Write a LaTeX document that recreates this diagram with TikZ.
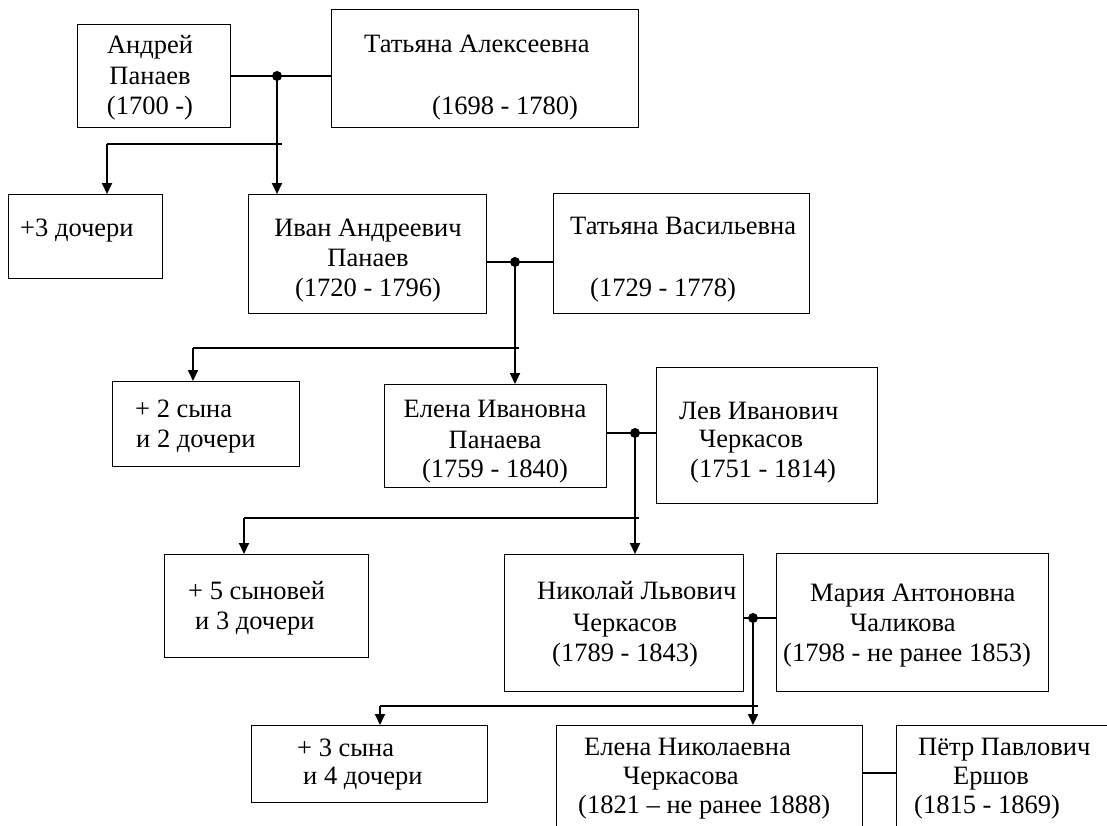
\documentclass[tikz,border=0pt]{standalone}
\usepackage{fontspec}
\setmainfont{Liberation Serif}
\usetikzlibrary{arrows.meta}
\begin{document}
\begin{tikzpicture}[x=1pt,y=-1pt,
  pbox/.style={draw, line width=1.3pt, anchor=north west, inner sep=0pt},
  tl/.style={anchor=base west, inner sep=0pt, font=\fontsize{26.5}{31}\selectfont},
  tc/.style={anchor=base, inner sep=0pt, font=\fontsize{26.5}{31}\selectfont},
  conn/.style={line width=2pt},
  arr/.style={line width=2pt, -{Triangle[length=11pt,width=10pt]}},
  mdot/.style={circle, fill, inner sep=0pt, minimum size=10pt}]
\clip (0,0) rectangle (1107,825);
\fill[white] (0,0) rectangle (1107,825);

% boxes
\node[pbox, minimum width=153pt, minimum height=103pt] (A) at (77,24) {};
\node[pbox, minimum width=307pt, minimum height=118pt] (B) at (331,9) {};
\node[pbox, minimum width=154pt, minimum height=84pt] (C) at (8,194) {};
\node[pbox, minimum width=238pt, minimum height=119pt] (D) at (248,194) {};
\node[pbox, minimum width=256pt, minimum height=120pt] (E) at (553,193) {};
\node[pbox, minimum width=187pt, minimum height=85pt] (F) at (112,381) {};
\node[pbox, minimum width=222pt, minimum height=103pt] (G) at (384,384) {};
\node[pbox, minimum width=221pt, minimum height=136pt] (H) at (656,367) {};
\node[pbox, minimum width=204pt, minimum height=103pt] (I) at (164,554) {};
\node[pbox, minimum width=239pt, minimum height=137pt] (J) at (504,554) {};
\node[pbox, minimum width=272pt, minimum height=138pt] (K) at (776,553) {};
\node[pbox, minimum width=236pt, minimum height=77pt] (L) at (251,725) {};
\node[pbox, minimum width=306pt, minimum height=130pt] (M) at (556,725) {};
\node[pbox, minimum width=230pt, minimum height=130pt] (N) at (896,725) {};

% texts
\node[tc] (a1) at (150,53) {Андрей};
\node[tc] (a2) at (150,84) {Панаев};
\node[tc] (a3) at (150,114) {(1700 -)};
\node[tl] (b1) at (364,52) {Татьяна Алексеевна};
\node[tl] (b2) at (432,114) {(1698 - 1780)};
\node[tl] (c1) at (20,236) {+3 дочери};
\node[tc] (d1) at (368,236) {Иван Андреевич};
\node[tc] (d2) at (368,266) {Панаев};
\node[tc] (d3) at (368,296) {(1720 - 1796)};
\node[tl] (e1) at (570,234) {Татьяна Васильевна};
\node[tl] (e2) at (590,296) {(1729 - 1778)};
\node[tl] (f1) at (135,417) {+ 2 сына};
\node[tl] (f2) at (136,447) {и 2 дочери};
\node[tc] (g1) at (495,417) {Елена Ивановна};
\node[tc] (g2) at (495,448) {Панаева};
\node[tc] (g3) at (495,477) {(1759 - 1840)};
\node[tl] (h1) at (679,419) {Лев Иванович};
\node[tl] (h2) at (699,447) {Черкасов};
\node[tl] (h3) at (690,477) {(1751 - 1814)};
\node[tl] (i1) at (188,599) {+ 5 сыновей};
\node[tl] (i2) at (195,629) {и 3 дочери};
\node[tl] (j1) at (537,599) {Николай Львович};
\node[tl] (j2) at (573,631) {Черкасов};
\node[tl] (j3) at (552,661) {(1789 - 1843)};
\node[tl] (k1) at (810,601) {Мария Антоновна};
\node[tl] (k2) at (850,631) {Чаликова};
\node[tl] (k3) at (783,661) {(1798 - не ранее 1853)};
\node[tl] (l1) at (297,756) {+ 3 сына};
\node[tl] (l2) at (303,784) {и 4 дочери};
\node[tl] (m1t) at (584,755) {Елена Николаевна};
\node[tl] (m2t) at (623,784) {Черкасова};
\node[tl] (m3t) at (578,813) {(1821 – не ранее 1888)};
\node[tl] (n1) at (918,755) {Пётр Павлович};
\node[tl] (n2) at (953,784) {Ершов};
\node[tl] (n3) at (914,813) {(1815 - 1869)};

% marriage dots
\node[mdot] (m1) at (277,76) {};
\node[mdot] (m2) at (515,262) {};
\node[mdot] (m3) at (635,433) {};
\node[mdot] (m4) at (753,618) {};

% bar ends
\coordinate (b1l) at (107,144); \coordinate (b1r) at (282,144);
\coordinate (b2l) at (193,348); \coordinate (b2r) at (519,348);
\coordinate (b3l) at (244,518); \coordinate (b3r) at (639,518);
\coordinate (b4l) at (380,706); \coordinate (b4r) at (758,706);

% generation 1
\draw[conn] (A.east |- m1) -- (B.west |- m1);
\draw[arr] (m1.center) -- (m1 |- D.north);
\draw[conn] (b1l) -- (b1r);
\draw[arr] (b1l) -- (b1l |- C.north);
% generation 2
\draw[conn] (D.east |- m2) -- (E.west |- m2);
\draw[arr] (m2.center) -- (m2 |- G.north);
\draw[conn] (b2l) -- (b2r);
\draw[arr] (b2l) -- (b2l |- F.north);
% generation 3
\draw[conn] (G.east |- m3) -- (H.west |- m3);
\draw[arr] (m3.center) -- (m3 |- J.north);
\draw[conn] (b3l) -- (b3r);
\draw[arr] (b3l) -- (b3l |- I.north);
% generation 4
\draw[conn] (J.east |- m4) -- (K.west |- m4);
\draw[arr] (m4.center) -- (m4 |- M.north);
\draw[conn] (b4l) -- (b4r);
\draw[arr] (b4l) -- (b4l |- L.north);
% generation 5
\draw[conn] (M.east |- 0,773) -- (N.west |- 0,773);
\end{tikzpicture}
\end{document}
